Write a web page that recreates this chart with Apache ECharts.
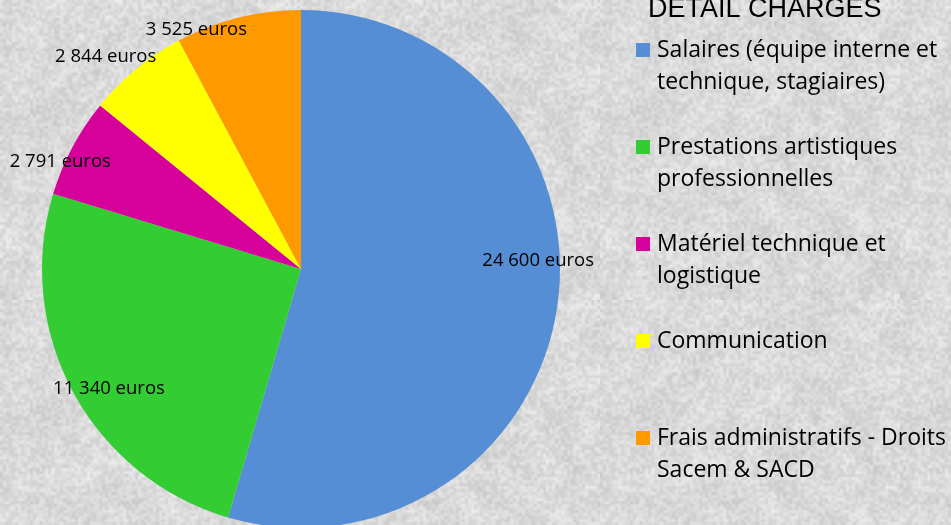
<!DOCTYPE html>
<html>
<head>
<meta charset="utf-8">
<script src="https://cdn.jsdelivr.net/npm/echarts@6/dist/echarts.min.js"></script>
<style>html,body{margin:0;padding:0;}#c{width:951px;height:525px;}</style>
</head>
<body>
<div id="c"></div>
<script>
const titleText = 'DETAIL CHARGES';
const categories = [
  'Salaires (équipe interne et technique, stagiaires)',
  'Prestations artistiques professionnelles',
  'Matériel technique et logistique',
  'Communication',
  'Frais administratifs - Droits Sacem & SACD'
];
const legendLines = [
  'Salaires (équipe interne et\ntechnique, stagiaires)',
  'Prestations artistiques\nprofessionnelles',
  'Matériel technique et\nlogistique',
  'Communication\n ',
  'Frais administratifs - Droits\nSacem & SACD'
];
const values = [24600, 11340, 2791, 2844, 3525];
const valueLabels = ['24 600 euros', '11 340 euros', '2 791 euros', '2 844 euros', '3 525 euros'];
const colors = ['#558ED5', '#33CC33', '#D6009A', '#FFFF00', '#FF9900'];
const labelOffsets = [[11, -41], [9, 11], [-39, 0], [-50, -36], [-49, -18]];

// deterministic stone-like background texture
function makeTexture() {
  let s = 12345;
  function rnd() { s = (s * 1103515245 + 12345) & 0x7fffffff; return s / 0x7fffffff; }
  function layer(n, lo, span) {
    const c = document.createElement('canvas');
    c.width = n; c.height = n;
    const ctx = c.getContext('2d');
    const img = ctx.createImageData(n, n);
    for (let i = 0; i < n * n; i++) {
      const v = lo + Math.floor(rnd() * span);
      img.data[i * 4] = v; img.data[i * 4 + 1] = v; img.data[i * 4 + 2] = v; img.data[i * 4 + 3] = 255;
    }
    ctx.putImageData(img, 0, 0);
    return c;
  }
  const size = 300;
  const big = document.createElement('canvas');
  big.width = size; big.height = size;
  const bctx = big.getContext('2d');
  bctx.imageSmoothingEnabled = true;
  bctx.drawImage(layer(20, 200, 36), 0, 0, size, size);
  bctx.globalAlpha = 0.6;
  bctx.drawImage(layer(100, 196, 46), 0, 0, size, size);
  bctx.globalAlpha = 1;
  return big;
}

const chart = echarts.init(document.getElementById('c'), null, { renderer: 'canvas' });
const dataItems = categories.map((n, i) => ({ name: n, value: values[i], itemStyle: { color: colors[i] } }));
const labelItems = categories.map((n, i) => ({
  name: n, value: values[i],
  label: { offset: labelOffsets[i], formatter: valueLabels[i] }
}));

chart.setOption({
  backgroundColor: { image: makeTexture(), repeat: 'repeat' },
  animation: false,
  title: {
    text: titleText, left: 648, top: -4, padding: 0,
    textStyle: { fontFamily: 'Liberation Sans', fontSize: 27, fontWeight: 'normal', color: '#000', lineHeight: 27 }
  },
  legend: {
    orient: 'vertical', left: 636, top: 2, padding: 0,
    itemWidth: 14, itemHeight: 14, itemGap: 1, icon: 'rect',
    data: categories,
    formatter: function (name) { return '\n' + legendLines[categories.indexOf(name)]; },
    textStyle: { fontFamily: 'Open Sans', fontSize: 23, color: '#000', lineHeight: 32, padding: [0, 0, 0, 2] },
    selectedMode: false
  },
  series: [
    {
      type: 'pie', center: [301, 269], radius: [0, 259], startAngle: 90, clockwise: true,
      label: { show: false }, labelLine: { show: false }, silent: true,
      data: dataItems
    },
    {
      type: 'pie', center: [301, 269], radius: [192, 259], startAngle: 90, clockwise: true,
      silent: true, itemStyle: { color: 'rgba(0,0,0,0)' },
      label: { show: true, position: 'inside', fontFamily: 'Open Sans', fontSize: 18.5, color: '#000' },
      labelLine: { show: false },
      data: labelItems
    }
  ]
});
</script>
</body>
</html>
